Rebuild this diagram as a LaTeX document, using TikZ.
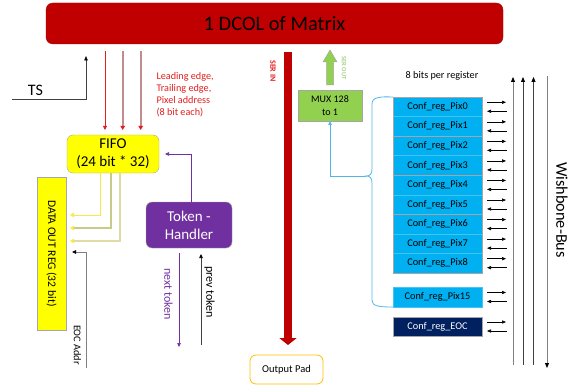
\documentclass[tikz,border=0pt]{standalone}
\usepackage{fontspec}
\setmainfont{Carlito}
\usetikzlibrary{arrows.meta}
\definecolor{dred}{HTML}{C00000}
\definecolor{lred}{HTML}{E41E1E}
\definecolor{pinkred}{HTML}{C08C8C}
\definecolor{fyel}{HTML}{FFFF00}
\definecolor{yel1}{HTML}{F5E94A}
\definecolor{yel2}{HTML}{C9C98A}
\definecolor{yel3}{HTML}{DEDCA4}
\definecolor{purp}{HTML}{7030A0}
\definecolor{mgreen}{HTML}{92D050}
\definecolor{lgreen}{HTML}{A9D18E}
\definecolor{cyanf}{HTML}{00B0F0}
\definecolor{cyanl}{HTML}{45C4F3}
\definecolor{cyanc}{HTML}{4FB7E6}
\definecolor{navy}{HTML}{002060}
\definecolor{padc}{HTML}{FFC000}
\definecolor{gbord}{HTML}{A6A6A6}
\definecolor{dgray}{HTML}{404040}
\begin{document}
\begin{tikzpicture}[x=1pt,y=-1pt,
  blk/.style={inner sep=0pt, outer sep=0pt, anchor=north west},
  reg/.style={blk, fill=cyanf, draw=cyanl, line width=0.4pt, minimum width=89pt, minimum height=19.55pt, font=\fontsize{10.3}{12}\selectfont},
  stip/.style={-{Triangle[length=4pt,width=3.5pt]}},
  biarr/.style={line width=0.6pt, -{Triangle[length=4pt,width=3.2pt]}},
  vlab/.style={rotate=-90, inner sep=0pt}
]
\useasboundingbox (0,0) rectangle (573,385);

% top bar
\node[blk, rounded corners=7pt, fill=dred, draw=dred!85!black, minimum width=457pt, minimum height=41pt, font=\fontsize{20.5}{24}\selectfont] (bar) at (46,3) {1 DCOL of Matrix};

% FIFO
\node[blk, rounded corners=6pt, fill=fyel, draw=gbord, minimum width=92pt, minimum height=38pt, align=center, font=\fontsize{15}{18}\selectfont] (fifo) at (67,135) {FIFO\\(24 bit * 32)};

% DATA OUT REG
\node[blk, fill=fyel, draw=gbord, minimum width=29pt, minimum height=153pt] (dreg) at (37,177) {};
\node[vlab, font=\fontsize{11.6}{13}\selectfont] (dregtxt) at (dreg.center) {DATA OUT REG (32 bit)};

% Token handler
\node[blk, rounded corners=6pt, fill=purp, draw=gbord, minimum width=86pt, minimum height=46pt, align=center, text=white, font=\fontsize{15}{18}\selectfont] (tok) at (146,202) {Token -\\Handler};

% Output pad
\node[blk, rounded corners=6pt, draw=padc, line width=0.8pt, fill=white, minimum width=73pt, minimum height=29pt, font=\fontsize{10.5}{12}\selectfont] (pad) at (250,355) {Output Pad};

% MUX
\node[blk, fill=mgreen, draw=gbord, minimum width=64pt, minimum height=31pt, align=center, font=\fontsize{10}{13}\selectfont] (mux) at (298,90) {MUX 128\\to 1};

% registers
\node[reg] (p0) at (393,97.0) {Conf\_reg\_Pix0};
\node[reg] (p1) at (393,116.55) {Conf\_reg\_Pix1};
\node[reg] (p2) at (393,136.1) {Conf\_reg\_Pix2};
\node[reg] (p3) at (393,155.65) {Conf\_reg\_Pix3};
\node[reg] (p4) at (393,175.2) {Conf\_reg\_Pix4};
\node[reg] (p5) at (393,194.75) {Conf\_reg\_Pix5};
\node[reg] (p6) at (393,214.3) {Conf\_reg\_Pix6};
\node[reg] (p7) at (393,233.85) {Conf\_reg\_Pix7};
\node[reg] (p8) at (393,253.4) {Conf\_reg\_Pix8};
\node[reg, minimum height=20pt] (p15) at (393,287) {Conf\_reg\_Pix15};
\node[reg, fill=navy, draw=gbord, text=white, minimum height=19pt] (peoc) at (393,317) {Conf\_reg\_EOC};
\draw[gbord, line width=0.8pt] (p0.north west) rectangle (p1.south east);
\draw[gbord, line width=0.8pt] (p2.north west) rectangle (p3.south east);
\draw[gbord, line width=0.8pt] (p4.north west) rectangle (p5.south east);
\draw[gbord, line width=0.8pt] (p6.north west) rectangle (p8.south east);

% register bus arrows
\foreach \r in {p0,p1,p2,p3,p4,p5,p6,p7,p8,p15,peoc}{
  \draw[biarr] ([xshift=5pt,yshift=4.5pt]\r.east) -- ++(19,0);
  \draw[biarr] ([xshift=24.5pt,yshift=-4.5pt]\r.east) -- ++(-19.5,0);
}

% brace
\draw[cyanc, line width=0.8pt] (p0.north west) .. controls (380,96.5) and (372,97) .. (372,104)
  -- (372,169) .. controls (372,174) and (370,176) .. (366,176)
  .. controls (370,176) and (372,178) .. (372,183)
  -- (372,300) .. controls (372,306) and (378,307) .. (p15.south west);
\coordinate (btip) at (366,176);
\draw[cyanc, line width=0.8pt, stip] (btip) -| (mux.south);

% wishbone bus lines
\coordinate (b1t) at (513,77); \coordinate (b1b) at (513,365);
\coordinate (b2t) at (523,77); \coordinate (b2b) at (523,365);
\coordinate (b3t) at (533.5,77); \coordinate (b3b) at (533.5,365);
\coordinate (b4t) at (547,76); \coordinate (b4b) at (547,368);
\draw[gray, line width=0.8pt, -{Triangle[length=5pt,width=4pt,fill=black,color=black]}] (b1b) -- (b1t);
\draw[dgray, line width=0.8pt, -{Triangle[length=5pt,width=4pt,fill=black,color=black]}] (b2b) -- (b2t);
\draw[dgray, line width=0.8pt, -{Triangle[length=5pt,width=4pt,fill=black,color=black]}] (b3b) -- (b3t);
\draw[gray, line width=0.8pt, -{Triangle[length=5pt,width=4pt,fill=black,color=black]}] (b4t) -- (b4b);
\node[vlab, font=\fontsize{16.3}{18}\selectfont] (wb) at (562,210) {Wishbone-Bus};
\node[font=\fontsize{10.2}{12}\selectfont, inner sep=0pt] (bpr) at (442,76) {8 bits per register};

% TS
\coordinate (ts0) at (12,99);
\coordinate (ts1) at (86,99);
\draw[dgray, line width=0.7pt, -{Triangle[length=4.5pt,width=3.5pt,fill=black,color=black]}] (ts0) -- (ts1) -- ([yshift=-12pt]ts1 |- bar.south);
\node[font=\fontsize{16}{18}\selectfont, inner sep=0pt] (ts) at (35.5,90) {TS};

% red arrows bar -> FIFO
\coordinate (r1) at (105,51);
\coordinate (r2) at (122.7,51);
\coordinate (r3) at (140.7,51);
\draw[lred, line width=0.8pt, shorten >=5pt, -{Triangle[length=4pt,width=4pt]}] (r1) -- (r1 |- fifo.north);
\draw[pinkred, line width=1.6pt, shorten >=5pt, -{Triangle[length=4pt,width=4.5pt,fill=lred,color=lred]}] (r2) -- (r2 |- fifo.north);
\draw[pinkred, line width=1.6pt, shorten >=5pt, -{Triangle[length=4pt,width=4.5pt,fill=lred,color=lred]}] (r3) -- (r3 |- fifo.north);
\node[blk, text=lred, align=left, font=\fontsize{10.2}{12.2}\selectfont] (lead) at (156.5,72) {Leading edge,\\Trailing edge,\\Pixel address\\(8 bit each)};

% yellow arrows FIFO -> DATA OUT REG
\coordinate (y1) at (100,215);
\coordinate (y2) at (111,228);
\coordinate (y3) at (120,241);
\draw[yel1, line width=1pt, shorten >=4pt, -{Triangle[length=4pt,width=4.5pt]}] (y1 |- fifo.south) |- (y1 -| dreg.east);
\draw[yel2, line width=1.4pt, shorten >=4pt, -{Triangle[length=4pt,width=4.5pt,fill=yel1,color=yel1]}] (y2 |- fifo.south) |- (y2 -| dreg.east);
\draw[yel3, line width=1.4pt, shorten >=4pt, -{Triangle[length=4pt,width=4.5pt,fill=yel1,color=yel1]}] (y3 |- fifo.south) |- (y3 -| dreg.east);

% EOC Addr
\coordinate (eoc0) at (86,368);
\coordinate (eoc1) at (86,252);
\draw[gray, line width=0.8pt, shorten >=6pt, -{Triangle[length=4pt,width=3.5pt,fill=black,color=black]}] (eoc0) -- (eoc1) -- (eoc1 -| dreg.east);
\node[vlab, font=\fontsize{10.3}{12}\selectfont] (eoclab) at (77.5,345) {EOC Addr};

% token handler connections
\draw[purp, line width=0.7pt, shorten >=6pt, -{Triangle[length=4pt,width=3.5pt]}] ([xshift=2pt]tok.north) |- (fifo.east);
\coordinate (nt) at (179,347);
\coordinate (pt) at (201,345);
\draw[purp, line width=0.7pt, shorten <=5pt, -{Triangle[length=4pt,width=3.5pt]}] (nt |- tok.south) -- (nt);
\draw[dgray, line width=0.7pt, shorten >=6pt, -{Triangle[length=4pt,width=3.5pt,fill=black,color=black]}] (pt) -- (pt |- tok.south);
\node[vlab, text=purp, font=\fontsize{12}{14}\selectfont] (ntlab) at (168.5,294) {next token};
\node[vlab, font=\fontsize{12}{14}\selectfont] (ptlab) at (209.5,292) {prev token};

% SER IN
\coordinate (serin) at (288,345);
\draw[dred, line width=8pt, shorten <=8pt, -{Triangle[length=7pt,width=17pt]}] (serin |- bar.south) -- (serin);
\node[vlab, text=lred, font=\bfseries\fontsize{8}{9}\selectfont] (serinlab) at (273,71) {SER IN};

% SER OUT
\draw[fill=mgreen, draw=gbord, line width=0.5pt] (326.5,85) -- (326.5,62) -- (323,62) -- (330,50) -- (337,62) -- (333.5,62) -- (333.5,85) -- cycle;
\node[vlab, text=lgreen, font=\bfseries\fontsize{6.5}{8}\selectfont] (seroutlab) at (344,68) {SER OUT};
\end{tikzpicture}
\end{document}
